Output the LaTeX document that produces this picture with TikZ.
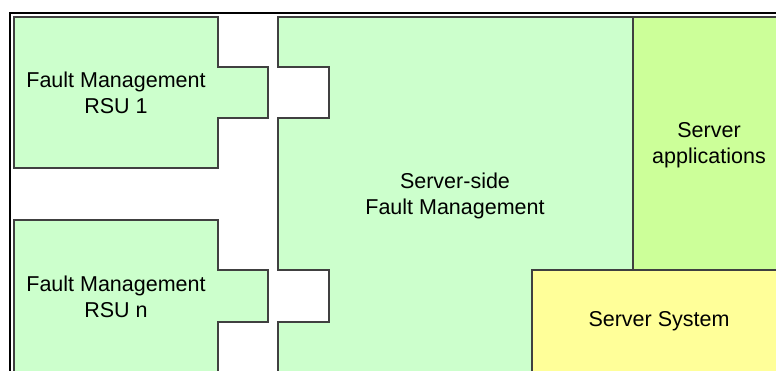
\documentclass[tikz,border=0pt]{standalone}
\usepackage{fontspec}
\setmainfont{Liberation Sans}
\definecolor{fmGreen}{HTML}{CCFFCC}
\definecolor{appGreen}{HTML}{CCFF99}
\definecolor{sysYellow}{HTML}{FFFF99}
\begin{document}
\begin{tikzpicture}[
                x=1pt, y=-1pt,
                fmBlock/.style={fill=fmGreen,draw=black!75,line width=1.2pt},
                appBlock/.style={fill=appGreen,draw=black!75,line width=1.2pt},
                sysBlock/.style={fill=sysYellow,draw=black!75,line width=1.2pt},
                fmLabel/.style={align=center,inner sep=0pt,
                                font=\fontsize{21.5}{25.5}\selectfont}]
                \useasboundingbox (0,0) rectangle (776,370);
                \clip (0,0) rectangle (776,370);
                % outer frame
                \draw[line width=2.6pt] (10,380) -- (10,13) -- (790,13);
                % fault management of the RSUs
                \draw[fmBlock] (14,17) -- (218,17) -- (218,67) -- (268,67)
                    -- (268,118) -- (218,118) -- (218,168) -- (14,168) -- cycle;
                \draw[fmBlock] (14,380) -- (14,220) -- (218,220) -- (218,270)
                    -- (268,270) -- (268,322) -- (218,322) -- (218,380);
                % server side
                \draw[fmBlock] (278,17) -- (633,17) -- (633,380) -- (278,380)
                    -- (278,322) -- (329,322) -- (329,270) -- (278,270)
                    -- (278,118) -- (329,118) -- (329,67) -- (278,67) -- cycle;
                \draw[appBlock] (633,17) rectangle (790,270);
                \draw[sysBlock] (532,270) rectangle (790,380);
                \node[fmLabel] (rsuOne) at (116,93) {Fault Management\\RSU 1};
                \node[fmLabel] (rsuN) at (116,297) {Fault Management\\RSU n};
                \node[fmLabel] (serverFm) at (455,196) {Server-side\\Fault Management};
                \node[fmLabel] (serverApps) at (709,145) {Server\\applications};
                \node[fmLabel] (serverSys) at (659,321) {Server System};
            \end{tikzpicture}
\end{document}
